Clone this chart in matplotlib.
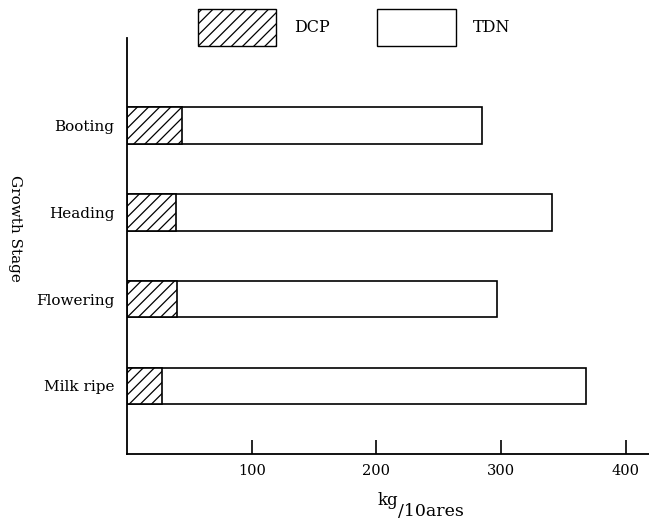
import matplotlib
matplotlib.use("Agg")
import matplotlib.pyplot as plt
from matplotlib.patches import Patch

# growth stages, bottom to top
stages = ["Milk ripe", "Flowering", "Heading", "Booting"]
dcp = [28, 40, 39, 44]
tdn = [368, 297, 341, 285]
x_ticks = [100, 200, 300, 400]

plt.rcParams['font.family'] = ['DejaVu Serif']
plt.rcParams['hatch.linewidth'] = 0.9

fig = plt.figure(figsize=(6.49, 5.24), dpi=100)
ax = fig.add_axes([0.1957, 0.1336, 0.8043, 0.7939])

pos = range(len(stages))
ax.barh(pos, tdn, height=0.42, color='white', edgecolor='black', linewidth=1.2)
ax.barh(pos, dcp, height=0.42, color='white', edgecolor='black', linewidth=1.2, hatch='///')

ax.set_xlim(0, 418.6)
ax.set_ylim(-0.784, 4.01)
ax.set_xticks(x_ticks)
ax.set_xticklabels([str(t) for t in x_ticks], fontsize=10.5)
ax.set_yticks(list(pos))
ax.set_yticklabels(stages, fontsize=11)
ax.tick_params(axis='x', direction='in', length=10, width=1.2, pad=7)
ax.tick_params(axis='y', length=0, pad=9)
for s in ['top', 'right']:
    ax.spines[s].set_visible(False)
for s in ['left', 'bottom']:
    ax.spines[s].set_linewidth(1.3)

# axis titles
fig.text(0.023, 0.565, "Growth Stage", rotation=270, ha='center', va='center', fontsize=11)
fig.text(0.613, 0.037, "kg", ha='right', va='baseline', fontsize=12)
fig.text(0.613, 0.016, "/10ares", ha='left', va='baseline', fontsize=12.5)

handles = [Patch(facecolor='white', edgecolor='black', hatch='///', linewidth=1.0, label='DCP'),
           Patch(facecolor='white', edgecolor='black', linewidth=1.0, label='TDN')]
fig.legend(handles=handles, loc='center', bbox_to_anchor=(0.546, 0.947), ncol=2, frameon=False,
           fontsize=11.5, handlelength=4.9, handleheight=3.2, handletextpad=1.1, columnspacing=3.0)

fig.savefig("out.png", dpi=100)
